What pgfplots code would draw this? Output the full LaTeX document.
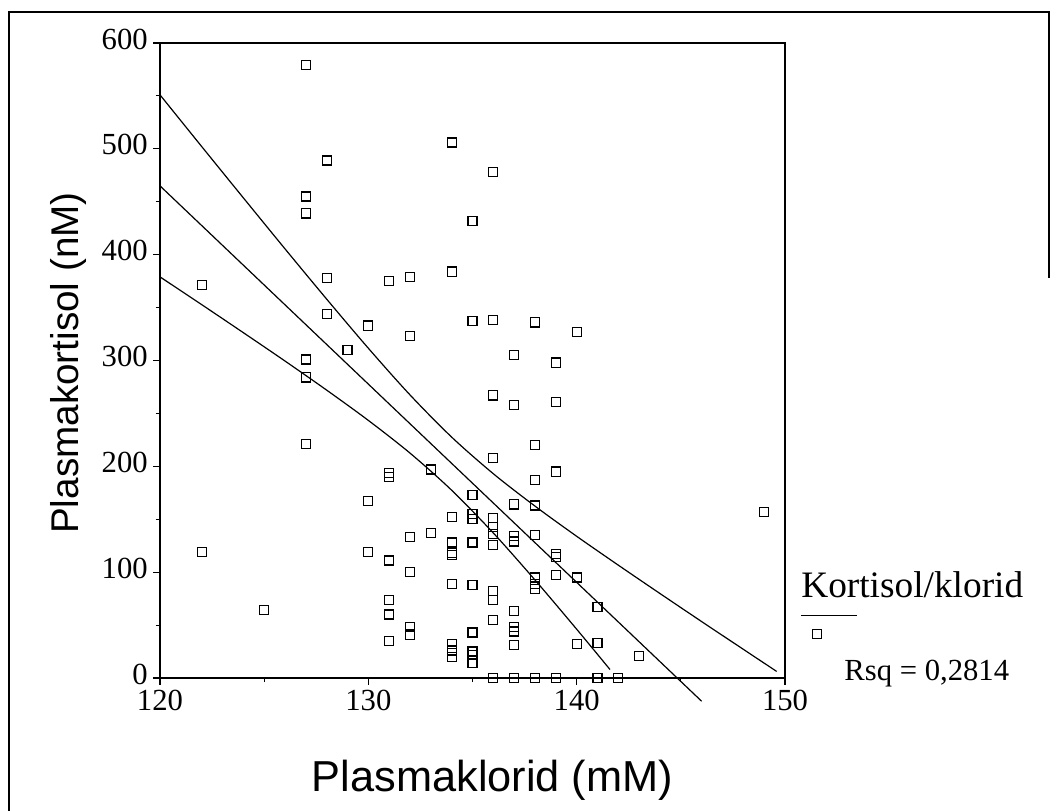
\documentclass[border=0pt]{standalone}
\usepackage{fontspec}
\setmainfont{Liberation Serif}
\newfontfamily\arialfont{Liberation Sans}
\usepackage{pgfplots}
\pgfplotsset{compat=1.18}
\begin{document}
\begin{tikzpicture}
\useasboundingbox (-120pt,-99pt) rectangle (672pt,508.5pt);
\draw[line width=1.5pt] (-113.25pt,-105pt) -- (-113.25pt,499.5pt) -- (666.75pt,499.5pt) -- (666.75pt,300pt);
\begin{axis}[
  at={(0,0)}, anchor=south west, scale only axis,
  width=468.75pt, height=476.25pt,
  xmin=120, xmax=150, ymin=0, ymax=600,
  xtick={120,130,140,150}, ytick={0,100,...,600},
  minor xtick={125,135,145}, minor ytick={50,150,...,550},
  xtick pos=bottom, ytick pos=left,
  tick align=outside, major tick length=5pt, minor tick length=3pt,
  every tick/.style={black, line width=0.8pt},
  axis line style={line width=0.9pt},
  clip=false,
  /pgf/number format/assume math mode=true,
  tick label style={font=\fontsize{23}{23}\selectfont},
  yticklabel style={yshift=3pt, inner sep=4pt},
  xticklabel style={inner sep=3pt, yshift=-1pt},
  xlabel={\arialfont Plasmaklorid (mM)},
  ylabel={\arialfont Plasmakortisol (nM)},
  xlabel style={font=\fontsize{32.5}{32.5}\selectfont, at={(axis description cs:0.532,-0.1795)}, anchor=base},
  ylabel style={font=\fontsize{29}{29}\selectfont, at={(axis description cs:-0.131,0.496)}, anchor=base},
]
\addplot[only marks, mark=square, mark size=3.4pt, mark options={line width=0.9pt, black}] coordinates {
(122,371) (122,119) (125,64)
(127,579) (127,455) (127,439) (127,301) (127,284) (127,221)
(128,489) (128,378) (128,344)
(129,310)
(130,333) (130,167) (130,119)
(131,375) (131,194) (131,190) (131,111) (131,74) (131,60) (131,35)
(132,379) (132,323) (132,133) (132,100) (132,48) (132,41)
(133,197) (133,137)
(134,506) (134,384) (134,152) (134,128) (134,118) (134,116) (134,89) (134,32) (134,26) (134,20)
(135,432) (135,337) (135,173) (135,155) (135,150) (135,128) (135,88) (135,43) (135,25) (135,22) (135,14)
(136,478) (136,338) (136,267) (136,208) (136,151) (136,143) (136,136) (136,126) (136,82) (136,74) (136,55) (136,0)
(137,305) (137,258) (137,164) (137,134) (137,129) (137,63) (137,48) (137,44) (137,31) (137,0)
(138,336) (138,220) (138,187) (138,163) (138,135) (138,95) (138,89) (138,84) (138,0)
(139,298) (139,261) (139,195) (139,117) (139,114) (139,97) (139,0)
(140,327) (140,95) (140,32)
(141,67) (141,33) (141,0)
(142,0)
(143,21)
(149,157)
};
% regression line
\addplot[black, line width=0.9pt, no marks] coordinates {(120,465) (146,-22)};
% upper band
\addplot[black, line width=0.9pt, no marks, smooth] coordinates {
(120,551.0) (122,502.2) (124,453.7) (126,405.5) (128,358.0) (130,311.6) (132,267.5)
(134,227.6) (136,193.0) (138,162.4) (140,133.9) (142,106.6) (144,79.8) (146,53.3) (148,27.1) (149.6,6.2)};
% lower band
\addplot[black, line width=0.9pt, no marks, smooth] coordinates {
(120,379.0) (122,352.8) (124,326.3) (126,299.5) (128,272.0) (130,243.4) (132,212.5)
(134,177.4) (136,137.0) (138,92.6) (140,46.1) (141.6,8)};
% thicker bottom axis
\draw[line width=2pt] (axis cs:120,0) -- (axis cs:150,0);
% legend
\node[anchor=base west, font=\fontsize{28}{28}\selectfont, inner sep=0pt] at (axis cs:150.77,75.6) {Kortisol/klorid};
\draw[line width=0.6pt] (axis cs:150.77,59.5) -- (axis cs:153.46,59.5);
\addplot[only marks, mark=square, mark size=3.2pt, mark options={line width=0.8pt, black}] coordinates {(151.54,41.6)};
\node[anchor=base west, font=\fontsize{23}{23}\selectfont, inner sep=0pt] at (axis cs:152.84,-1.9) {Rsq = 0,2814};
\end{axis}
\end{tikzpicture}
\end{document}
